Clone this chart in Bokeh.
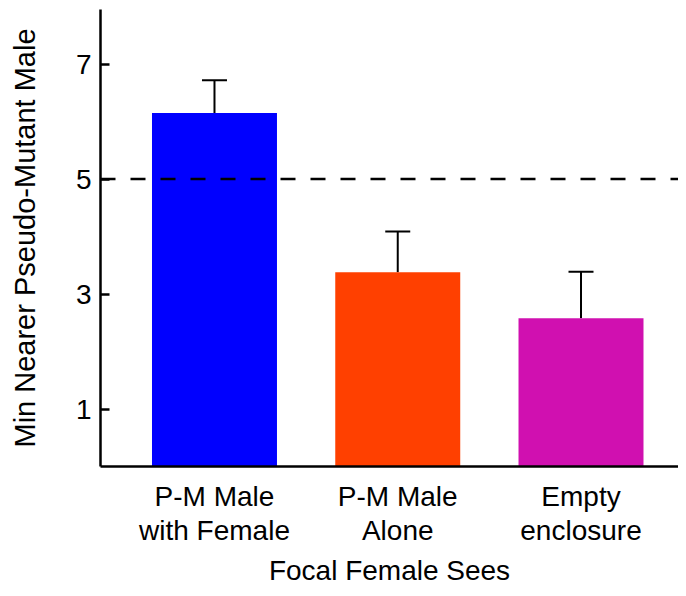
from bokeh.plotting import figure
from bokeh.models import ColumnDataSource, Whisker, TeeHead, Span, FixedTicker, Range1d
from bokeh.embed import file_html
from bokeh.resources import INLINE

categories = ["P-M Male\nwith Female", "P-M Male\nAlone", "Empty\nenclosure"]
positions = [1, 2, 3]
means = [6.15, 3.38, 2.58]
errors = [0.57, 0.71, 0.81]
colors = ["#0000FF", "#FF4000", "#D010B0"]
y_ticks = [1, 3, 5, 7]
reference_line = 5
x_title = "Focal Female Sees"
y_title = "Min Nearer Pseudo-Mutant Male"

src = ColumnDataSource(dict(
    x=positions,
    top=means,
    upper=[m + e for m, e in zip(means, errors)],
    color=colors,
))

FONT = "Liberation Sans"
FS = "28px"

p = figure(width=678, height=588, output_backend="svg", toolbar_location=None,
           x_range=Range1d(0.378, 3.532), y_range=Range1d(0, 7.95),
           min_border_left=100, min_border_right=0, min_border_top=9,
           min_border_bottom=122)
p.outline_line_color = None
p.grid.visible = False
p.background_fill_color = "white"
p.border_fill_color = "white"

p.vbar(x="x", top="top", bottom=0, width=0.682, fill_color="color",
       line_color=None, source=src)

p.add_layout(Span(location=reference_line, dimension="width", line_color="black",
                  line_width=2.5, line_dash="15 15"))

p.add_layout(Whisker(source=src, base="x", lower="top", upper="upper",
                     line_color="black", line_width=2,
                     upper_head=TeeHead(size=25, line_width=2, line_color="black"),
                     lower_head=None))

# axes
p.yaxis.ticker = FixedTicker(ticks=y_ticks)
p.yaxis.minor_tick_line_color = None
p.yaxis.major_tick_in = 9
p.yaxis.major_tick_out = 0
p.yaxis.major_tick_line_width = 2.5
p.yaxis.major_label_standoff = 9
p.yaxis.axis_label = y_title
p.yaxis.axis_label_standoff = 32
p.yaxis.axis_label_text_font_size = "29px"

p.xaxis.ticker = FixedTicker(ticks=positions)
p.xaxis.major_label_overrides = {pos: lab for pos, lab in zip(positions, categories)}
p.xaxis.major_tick_line_color = None
p.xaxis.minor_tick_line_color = None
p.xaxis.major_label_standoff = 8
p.xaxis.major_label_text_line_height = 1.1
p.xaxis.axis_label = x_title
p.xaxis.axis_label_standoff = 6
p.xaxis.axis_label_text_line_height = 1.0
p.xaxis.axis_label_text_font_size = FS

for ax in (p.xaxis, p.yaxis):
    ax.axis_line_width = 2.5
    ax.axis_line_color = "black"
    ax.major_label_text_font = FONT
    ax.major_label_text_font_size = FS
    ax.major_label_text_color = "black"
    ax.axis_label_text_font = FONT
    ax.axis_label_text_font_style = "normal"
    ax.axis_label_text_color = "black"

open("out.html", "w").write(file_html(p, INLINE))
